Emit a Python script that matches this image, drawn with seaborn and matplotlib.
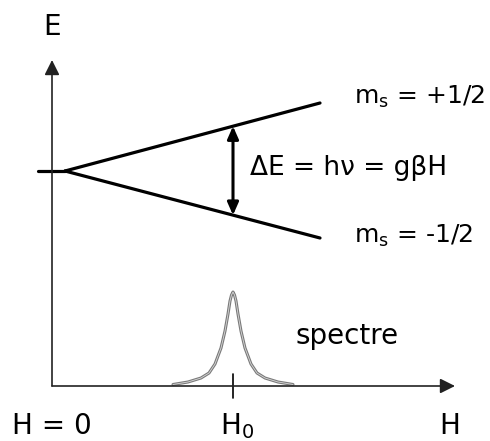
import numpy as np
import pandas as pd
import seaborn as sns
import matplotlib
matplotlib.use('Agg')
import matplotlib.pyplot as plt

# energy levels (H, E in arbitrary units, origin at the axis corner)
h_stub = [-14, 13]
e_stub = [215, 215]
h_split = [13, 268]
e_up = [215, 283]      # m_s = +1/2
e_down = [215, 148]    # m_s = -1/2
H0 = 181

# spectre: offsets from H0 and heights
peak_off = [-60, -45, -32, -24, -18, -12, -8, -5, -3, -1.5, 0, 1.5, 3, 5, 8, 12, 18, 24, 32, 45, 60]
peak_val = [1.5, 4, 8, 13, 22, 38, 55, 72, 85, 91, 94, 91, 85, 72, 55, 38, 22, 13, 8, 4, 1.5]

sns.set_style('white')
plt.rcParams['font.family'] = ['DejaVu Sans']
plt.rcParams['mathtext.fontset'] = 'dejavusans'
plt.rcParams['text.color'] = 'black'

fig = plt.figure(figsize=(4.9, 4.41), dpi=100)
ax = fig.add_axes([0, 0, 1, 1])
ax.set_xlim(-52, 438)
ax.set_ylim(-55, 386)
ax.axis('off')

# axes with arrows
ax.annotate('', xy=(0, 326), xytext=(0, 0),
            arrowprops=dict(arrowstyle='-|>,head_length=0.6,head_width=0.3', mutation_scale=15,
                            lw=1.2, color='#222222', shrinkA=0, shrinkB=0))
ax.annotate('', xy=(403, 0), xytext=(0, 0),
            arrowprops=dict(arrowstyle='-|>,head_length=0.6,head_width=0.3', mutation_scale=15,
                            lw=1.2, color='#222222', shrinkA=0, shrinkB=0))

# levels
lv = pd.DataFrame({'H': h_stub + h_split + h_split,
                   'E': e_stub + e_up + e_down,
                   'niveau': ['0', '0', '+', '+', '-', '-']})
sns.lineplot(data=lv, x='H', y='E', units='niveau', estimator=None, color='black',
             lw=2.3, sort=False, ax=ax)

# transition arrow
e_hi = np.interp(H0, h_split, e_up)
e_lo = np.interp(H0, h_split, e_down)
ax.annotate('', xy=(H0, e_hi), xytext=(H0, e_lo),
            arrowprops=dict(arrowstyle='<|-|>,head_length=0.5,head_width=0.22', mutation_scale=15,
                            lw=2.2, color='black', shrinkA=0, shrinkB=0))

# spectre
pk = pd.DataFrame({'H': np.array(peak_off) + H0, 'I': peak_val})
sns.lineplot(data=pk, x='H', y='I', color='#7a7a7a', lw=2.2, sort=False, ax=ax)
sns.lineplot(data=pk, x='H', y='I', color='#d8d8d8', lw=0.6, sort=False, ax=ax)

# tick at H0
ax.plot([H0, H0], [12, -12], color='black', lw=1.2)

# texts
ax.text(0, 359, 'E', fontsize=20, ha='center', va='center')
ax.text(302, 289, r'$\mathregular{m_s}$ = +1/2', fontsize=18, ha='left', va='center')
ax.text(302, 150, r'$\mathregular{m_s}$ = -1/2', fontsize=18, ha='left', va='center')
ax.text(198, 218, 'ΔE = hν = gβH', fontsize=19, ha='left', va='center')
ax.text(243, 50, 'spectre', fontsize=20, ha='left', va='center')
ax.text(0, -40, 'H = 0', fontsize=20, ha='center', va='center')
ax.text(185, -40, r'$\mathregular{H_0}$', fontsize=20, ha='center', va='center')
ax.text(398, -40, 'H', fontsize=20, ha='center', va='center')

fig.savefig('out.png', dpi=100)
